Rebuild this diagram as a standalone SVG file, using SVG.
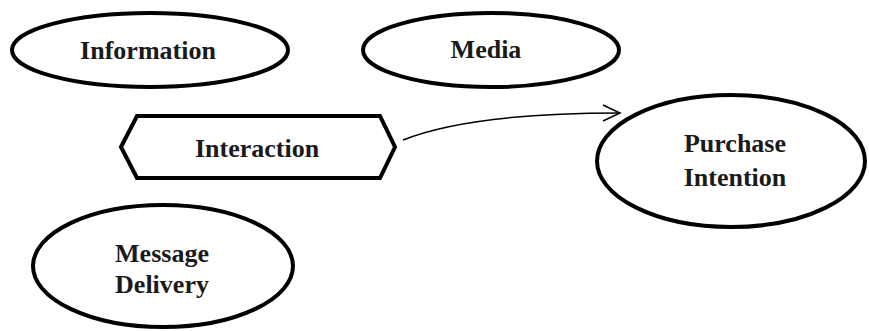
<svg xmlns="http://www.w3.org/2000/svg" width="869" height="331" viewBox="0 0 869 331">
<style>
.shape{fill:#fff;stroke:#000;stroke-width:4}
.lbl{font-family:"Liberation Serif","Times New Roman",serif;font-weight:bold;font-size:26px;fill:#1a1a1a;text-anchor:middle}
.conn{fill:none;stroke:#000;stroke-width:1.5}
</style>
<defs>
<marker id="arr" viewBox="0 0 20 20" refX="18" refY="10" markerWidth="20" markerHeight="20" markerUnits="userSpaceOnUse" orient="auto">
<path d="M1,2 L18,10 L1,18" fill="none" stroke="#000" stroke-width="1.5"/>
</marker>
</defs>
<rect width="869" height="331" fill="#fff"/>
<g id="information">
<ellipse class="shape" cx="150" cy="50" rx="138" ry="37"/>
<text class="lbl" x="148" y="59">Information</text>
</g>
<g id="media">
<ellipse class="shape" cx="491" cy="50" rx="128" ry="37"/>
<text class="lbl" x="486" y="58">Media</text>
</g>
<g id="interaction">
<polygon class="shape" points="121,147 137,116 380,116 395,147 380,178 137,178"/>
<text class="lbl" x="257" y="157">Interaction</text>
</g>
<g id="purchase-intention">
<ellipse class="shape" cx="731" cy="161" rx="134" ry="66"/>
<text class="lbl" x="735" y="152">Purchase</text>
<text class="lbl" x="735" y="186">Intention</text>
</g>
<g id="message-delivery">
<ellipse class="shape" cx="163" cy="266" rx="130" ry="61"/>
<text class="lbl" x="162" y="262">Message</text>
<text class="lbl" x="162" y="293">Delivery</text>
</g>
<g id="connectors">
<path class="conn" d="M403,140 Q470,113 620,113" marker-end="url(#arr)"/>
</g>
</svg>
